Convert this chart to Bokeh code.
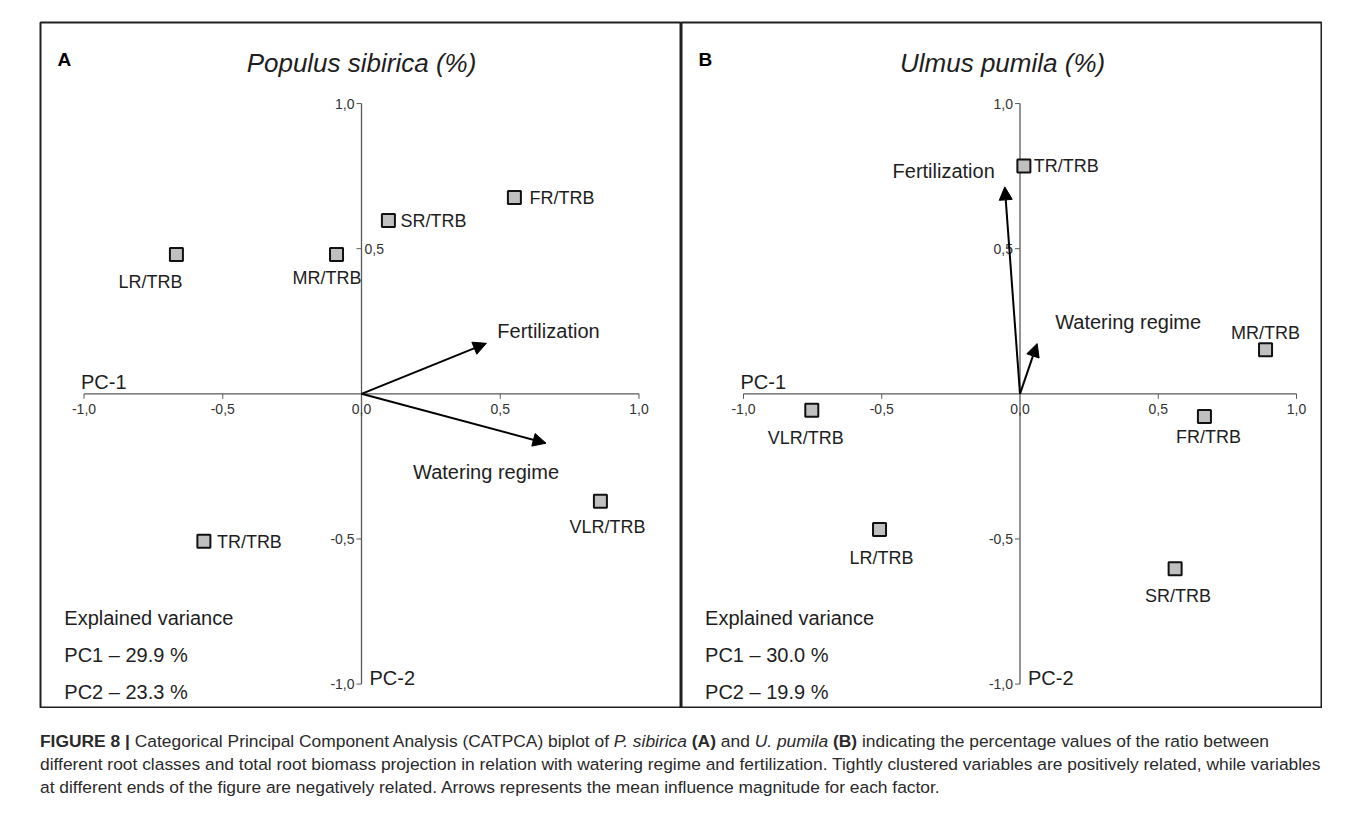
import math
from bokeh.plotting import figure
from bokeh.models import ColumnDataSource, Range1d, Arrow, NormalHead, Div
from bokeh.layouts import row, column
from bokeh.core.properties import value
from bokeh.embed import file_html
from bokeh.resources import INLINE

FONT = "Liberation Sans"

# ---------------- data ----------------
tick_vals = [-1.0, -0.5, 0.0, 0.5, 1.0]
tick_labels = ["-1,0", "-0,5", "0,0", "0,5", "1,0"]

# Panel A  - Populus sibirica
a_letter = "A"
a_title = "Populus sibirica (%)"
a_vars = ["LR/TRB", "MR/TRB", "SR/TRB", "FR/TRB", "TR/TRB", "VLR/TRB"]
a_pc1 = [-0.667, -0.09, 0.097, 0.551, -0.568, 0.861]
a_pc2 = [0.48, 0.48, 0.597, 0.676, -0.508, -0.37]
a_factors = ["Fertilization", "Watering regime"]
a_fac_pc1 = [0.45, 0.665]
a_fac_pc2 = [0.174, -0.17]
a_variance = ["Explained variance", "PC1 \u2013 29.9 %", "PC2 \u2013 23.3 %"]

# Panel B  - Ulmus pumila
b_letter = "B"
b_title = "Ulmus pumila (%)"
b_vars = ["TR/TRB", "MR/TRB", "FR/TRB", "VLR/TRB", "LR/TRB", "SR/TRB"]
b_pc1 = [0.014, 0.888, 0.667, -0.753, -0.508, 0.561]
b_pc2 = [0.785, 0.152, -0.078, -0.057, -0.467, -0.603]
b_factors = ["Fertilization", "Watering regime"]
b_fac_pc1 = [-0.055, 0.062]
b_fac_pc2 = [0.713, 0.173]
b_variance = ["Explained variance", "PC1 \u2013 30.0 %", "PC2 \u2013 19.9 %"]

# ---------------- styles (label placement, screen px) ----------------
a_lab_style = dict(align=["center", "right", "left", "left", "left", "center"],
                   dx=[-26, 25, 12, 15, 13, 7], dy=[27, 23, 0, 0, 1, 26])
b_lab_style = dict(align=["left", "center", "center", "center", "center", "center"],
                   dx=[10, 0, 4, -6, 2, 3], dy=[0, -17, 21, 28, 29, 27])
a_fac_style = dict(align=["left", "center"], dx=[11, -60], dy=[-12, 29])
b_fac_style = dict(align=["right", "left"], dx=[-10, 18], dy=[-16, -22])
# y tick label placement (A has its 0,5 label on the right of the axis)
a_ytick_style = dict(align=["right", "right", "left", "right"], dx=[-7, -7, 3, -7])
b_ytick_style = dict(align=["right", "right", "right", "right"], dx=[-7, -7, -7, -7])

TXT = "#1e1e1e"
AXC = "#5a5a5a"


def panel(width, left_border, xr, yr, letter, title, title_x, vars_, pc1, pc2,
          lab_style, factors, fx, fy, fac_style, variance, var_x, ytick_style):
    p = figure(width=width, height=708, x_range=Range1d(*xr), y_range=Range1d(*yr),
               output_backend="svg", toolbar_location=None,
               x_axis_type=None, y_axis_type=None,
               min_border_left=left_border, min_border_right=0,
               min_border_top=22, min_border_bottom=0)
    p.grid.visible = False
    p.outline_line_color = "#202020"
    p.outline_line_width = 2
    p.background_fill_color = "white"
    p.border_fill_color = "white"

    # axes through the origin
    p.segment(x0=[tick_vals[0], 0], y0=[0, tick_vals[0]],
              x1=[tick_vals[-1], 0], y1=[0, tick_vals[-1]],
              line_color=AXC, line_width=1.3)
    xt = [v for v in tick_vals if v != 0]
    p.ray(x=xt, y=[0] * len(xt), length=5, length_units="screen",
          angle=-math.pi / 2, line_color=AXC, line_width=1)
    p.ray(x=[0] * len(xt), y=xt, length=5, length_units="screen",
          angle=math.pi, line_color=AXC, line_width=1)

    # x tick labels
    p.text(x=tick_vals, y=[0] * 5, text=tick_labels, y_offset=15,
           text_align="center", text_baseline="middle",
           text_font=value(FONT), text_font_size="14px", text_color="#333333")
    # y tick labels
    yv = [v for v in tick_vals if v != 0]
    yl = [l for v, l in zip(tick_vals, tick_labels) if v != 0]
    ys = ColumnDataSource(dict(x=[0] * 4, y=yv, t=yl,
                               a=ytick_style["align"], dx=ytick_style["dx"]))
    p.text(x="x", y="y", text="t", x_offset="dx", text_align="a",
           text_baseline="middle", source=ys,
           text_font=value(FONT), text_font_size="14px", text_color="#333333")

    # axis names
    p.text(x=[tick_vals[0]], y=[0], text=["PC-1"], x_offset=-3, y_offset=-12,
           text_align="left", text_baseline="middle",
           text_font=value(FONT), text_font_size="20px", text_color=TXT)
    p.text(x=[0], y=[tick_vals[0]], text=["PC-2"], x_offset=8, y_offset=-6,
           text_align="left", text_baseline="middle",
           text_font=value(FONT), text_font_size="20px", text_color=TXT)

    # factor arrows
    fs = ColumnDataSource(dict(x0=[0] * len(fx), y0=[0] * len(fy), x1=fx, y1=fy,
                               t=factors, a=fac_style["align"],
                               dx=fac_style["dx"], dy=fac_style["dy"]))
    p.add_layout(Arrow(x_start="x0", y_start="y0", x_end="x1", y_end="y1",
                       source=fs, line_color="black", line_width=2,
                       end=NormalHead(size=13, fill_color="black",
                                      line_color="black", line_width=1)))
    p.text(x="x1", y="y1", text="t", x_offset="dx", y_offset="dy",
           text_align="a", text_baseline="middle", source=fs,
           text_font=value(FONT), text_font_size="20px", text_color=TXT)

    # variable points
    vs = ColumnDataSource(dict(x=pc1, y=pc2, t=vars_, a=lab_style["align"],
                               dx=lab_style["dx"], dy=lab_style["dy"]))
    p.scatter(x="x", y="y", source=vs, marker="square", size=13,
              fill_color="#c0c0c0", line_color="#111111", line_width=2)
    p.text(x="x", y="y", text="t", x_offset="dx", y_offset="dy",
           text_align="a", text_baseline="middle", source=vs,
           text_font=value(FONT), text_font_size="18px", text_color=TXT)

    # panel letter and title
    p.text(x=[xr[0]], y=[yr[1]], text=[letter], x_offset=17, y_offset=37,
           text_align="left", text_baseline="middle",
           text_font=value(FONT), text_font_size="19px",
           text_font_style="bold", text_color="black")
    p.text(x=[title_x], y=[yr[1]], text=[title], y_offset=40,
           text_align="center", text_baseline="middle",
           text_font=value(FONT), text_font_size="26px",
           text_font_style="italic", text_color=TXT)

    # explained variance block
    p.text(x=[var_x] * 3, y=[tick_vals[0]] * 3, text=variance,
           y_offset=[-66, -29, 8], text_align="left", text_baseline="middle",
           text_font=value(FONT), text_font_size="20px", text_color=TXT)
    return p


# pixel scale of the panels: x 277.5 px / unit, y 290.3 px / unit
pA = panel(681, 40, (-1.1568, 1.1532), (-1.0841, 1.2793), a_letter, a_title, 0.0,
           a_vars, a_pc1, a_pc2, a_lab_style, a_factors, a_fac_pc1, a_fac_pc2,
           a_fac_style, a_variance, -1.071, a_ytick_style)
pB = panel(641, 0, (-1.2242, 1.0940), (-1.0841, 1.2793), b_letter, b_title, -0.063,
           b_vars, b_pc1, b_pc2, b_lab_style, b_factors, b_fac_pc1, b_fac_pc2,
           b_fac_style, b_variance, -1.139, b_ytick_style)

caption_html = (
    "<b>FIGURE 8 |</b> Categorical Principal Component Analysis (CATPCA) biplot of "
    "<i>P. sibirica</i> <b>(A)</b> and <i>U. pumila</i> <b>(B)</b> indicating the "
    "percentage values of the ratio between<br>"
    "different root classes and total root biomass projection in relation with watering "
    "regime and fertilization. Tightly clustered variables are positively related, while variables<br>"
    "at different ends of the figure are negatively related. Arrows represents the mean "
    "influence magnitude for each factor."
)
caption = Div(text=caption_html, width=1310, height=74,
              margin=(22, 0, 0, 40),
              styles={"font-family": FONT, "font-size": "17.4px",
                      "line-height": "23px", "color": "#2a2a2a",
                      "white-space": "nowrap"})

layout = column(row(pA, pB), caption, spacing=0)
open("out.html", "w").write(file_html(layout, INLINE))
